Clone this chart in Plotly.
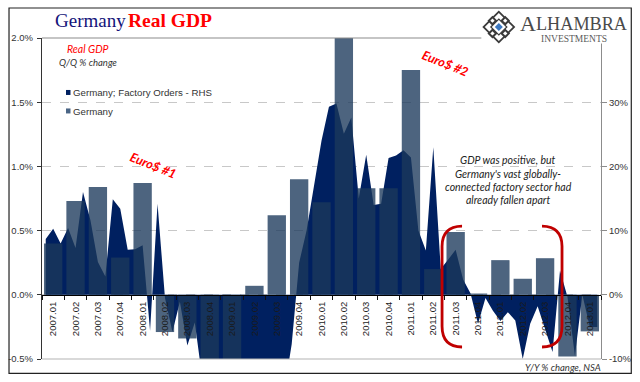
import plotly.graph_objects as go

# ---- data ----
quarters = ["2007.01","2007.02","2007.03","2007.04","2008.01","2008.02","2008.03","2008.04",
            "2009.01","2009.02","2009.03","2009.04","2010.01","2010.02","2010.03","2010.04",
            "2011.01","2011.02","2011.03","2011.04","2012.01","2012.02","2012.03","2012.04","2013.01"]
gdp_qq = [0.40,0.73,0.84,0.29,0.87,-0.29,-0.34,-1.8,-4.7,0.07,0.62,0.90,0.72,2.1,0.83,0.83,
          1.75,0.20,0.49,0.01,0.27,0.125,0.285,-0.48,-0.285]
months = [f"{y}-{m:02d}" for y in range(2007, 2013) for m in range(1, 13)] + ["2013-01", "2013-02", "2013-03"]
factory_yy = [8.7,10.3,8.0,10.4,7.3,16.0,11.6,5.1,2.85,14.9,13.4,7.0,7.1,7.7,-5.6,14.2,-0.5,-5.8,-1.1,-7.9,
              -4.3,-13,-16,-20,-22,-24,-25,-25,-26,-24,-22,-19,-15,-7.7,5,10,17,24,29.3,29.8,
              25.1,27.6,15,21.8,14,14.2,21.3,21.7,22.5,21.4,10,6.9,23,4,5.5,7,2.4,0.2,-4.5,-0.5,
              -2.5,-4.1,-2.7,-4,-10,-4.5,-1.8,-5.2,-8.9,3.8,-0.3,-9.5,0,-5,-5]
lhs_ticks = [-0.5,0,0.5,1.0,1.5,2.0]
lhs_labels = ["-0.5%","0.0%","0.5%","1.0%","1.5%","2.0%"]
rhs_ticks = [-10,0,10,20,30]
rhs_labels = ["-10%","0%","10%","20%","30%"]

W, H = 640, 382
L, R, T, B = 41.5, 600.7, 37.5, 358.7
NAVY, BAR = "#002060", "rgba(27,56,91,0.78)"
TXT = "#333333"
# paper coordinates are relative to the plot area (margins hold the rest)
def px(x): return (x - L) / (R - L)
def py(y): return (B - y) / (B - T)
def path(*segs):
    out = []
    for s in segs:
        cmd, pts = s[0], s[1:]
        out.append(cmd + " " + " ".join(f"{px(pts[i]):.5f},{py(pts[i+1]):.5f}" for i in range(0, len(pts), 2)))
    return " ".join(out)

fig = go.Figure()
fig.add_trace(go.Scatter(x=months, y=factory_yy, xaxis="x", yaxis="y", mode="lines", fill="tozeroy",
                         line=dict(width=0, color=NAVY), fillcolor=NAVY,
                         name="Germany; Factory Orders - RHS", showlegend=False))
fig.add_trace(go.Bar(x=quarters, y=gdp_qq, xaxis="x2", yaxis="y2", marker=dict(color=BAR, line=dict(width=0)),
                     width=0.82, name="Germany", showlegend=False))

shapes = []
def rect(x0, y0, x1, y1, **kw):
    shapes.append(dict(type="rect", xref="paper", yref="paper", x0=px(x0), x1=px(x1), y0=py(y0), y1=py(y1), **kw))
def line(x0, y0, x1, y1, color, width):
    shapes.append(dict(type="line", xref="paper", yref="paper", x0=px(x0), x1=px(x1), y0=py(y0), y1=py(y1),
                       line=dict(color=color, width=width)))
def poly(d, **kw):
    shapes.append(dict(type="path", xref="paper", yref="paper", path=d, **kw))

line(L, T, 481, T, "#8c8c8c", 1.2)
line(L, B, R, B, "#b4b4b4", 1.2)
# white patch for logo
rect(482, 9, 629.5, 43, fillcolor="white", line=dict(width=0))
# frame
rect(8.5, 7.5, 631, 373, line=dict(color="#222222", width=1.2), fillcolor="rgba(0,0,0,0)")
# legend swatches
rect(65.5, 89.5, 70, 94.5, fillcolor=NAVY, line=dict(width=0))
rect(65.5, 108, 70, 113, fillcolor="#4a6585", line=dict(width=0))
# brackets
red = dict(color="#c00000", width=2.8)
poly(path(("M",461.7,225.7),("Q",441.7,226,441.7,246),("L",441.7,326),("Q",441.7,346.5,461.7,346.7)), line=red)
poly(path(("M",541.7,225.7),("Q",561.7,226,561.7,246),("L",561.7,326),("Q",561.7,346.5,541.7,346.7)), line=red)
# logo
cx, cy = 498.5, 26.5
def dia(cx, cy, r): return path(("M",cx-r,cy),("L",cx,cy-r),("L",cx+r,cy),("L",cx,cy+r)) + " Z"
poly(dia(cx, cy, 16.5), fillcolor="#3a3a3a", line=dict(width=0))
poly(dia(cx, cy, 14), fillcolor="white", line=dict(width=0))
for dx, dy in [(-7.5,-7.5),(7.5,-7.5),(-7.5,7.5),(7.5,7.5)]:
    poly(dia(cx+dx*0.85, cy+dy*0.85, 5), fillcolor="#3a3a3a", line=dict(width=0))
    poly(dia(cx+dx*0.85, cy+dy*0.85, 2.2), fillcolor="white", line=dict(width=0))
poly(dia(cx, cy, 8), fillcolor="white", line=dict(color="#3a3a3a", width=1.2))
poly(dia(cx, cy, 4), fillcolor="#3c78c0", line=dict(width=0))

SANS = "Liberation Sans"
LATO = "Lato"
SERIF = "Liberation Serif"
def ann(x, y, text, size, color=TXT, family=SANS, anchor="center", angle=0, **kw):
    return dict(x=px(x), y=py(y), xref="paper", yref="paper", text=text, showarrow=False, xanchor=anchor,
                yanchor="middle", textangle=angle, font=dict(size=size, color=color, family=family),
                borderpad=0, **kw)

annotations = [
    ann(53.5, 19.5, "Germany", 19, "#14147a", SERIF, "left"),
    ann(127, 19.5, "<b>Real GDP</b>", 19.5, "#ff0000", SERIF, "left"),
    ann(88, 49, "<i>Real GDP</i>", 10.5, "#ff0000", LATO),
    ann(88, 62.5, "<i>Q/Q % change</i>", 9.5, TXT, LATO),
    ann(71.5, 92, "Germany; Factory Orders - RHS", 9.7, TXT, SANS, "left"),
    ann(71.5, 111, "Germany", 9.7, TXT, SANS, "left"),
    ann(153, 165, "<b><i>Euro$ #1</i></b>", 12.5, "#ff0000", LATO, angle=22),
    ann(445, 63, "<b><i>Euro$ #2</i></b>", 12.5, "#ff0000", LATO, angle=22),
    ann(507.7, 160, "<i>GDP was positive, but</i>", 10.5, "#222222", LATO),
    ann(507.7, 173.5, "<i>Germany's vast globally-</i>", 10.5, "#222222", LATO),
    ann(507.7, 187, "<i>connected factory sector had</i>", 10.5, "#222222", LATO),
    ann(507.7, 200, "<i>already fallen apart</i>", 10.5, "#222222", LATO),
    ann(601.7, 367.5, "<i>Y/Y % change, NSA</i>", 9.5, TXT, LATO, "right"),
    ann(519, 23, "A", 22, "#4a4a4a", SERIF, "left"),
    ann(534.5, 23.5, "LHAMBRA", 18.2, "#4a4a4a", SERIF, "left"),
    ann(574, 38.5, "INVESTMENTS", 9.5, "#5a5a5a", SERIF),
]

tickfont = dict(size=9.5, color=TXT, family=SANS)
fig.update_layout(
    width=W, height=H, autosize=False, margin=dict(l=L, r=W - R, t=T, b=H - B, pad=0, autoexpand=False),
    paper_bgcolor="white", plot_bgcolor="white", showlegend=False,
    shapes=shapes, annotations=annotations, bargap=0.18,
    xaxis=dict(domain=[0, 1], type="category", range=[-0.5, 74.5], visible=False, anchor="y"),
    yaxis=dict(domain=[0, 1], range=[-10, 40], side="right", anchor="x", tickvals=rhs_ticks, ticktext=rhs_labels,
               showgrid=False, zeroline=False, showline=True, linecolor="#8c8c8c", linewidth=1,
               ticks="outside", ticklen=5, tickcolor="#8c8c8c", tickfont=tickfont),
    xaxis2=dict(domain=[0, 1], type="category", overlaying="x", range=[-0.5, 24.5], anchor="free", position=0.2,
                categoryorder="array", categoryarray=quarters, tickmode="array", tickvals=quarters, ticktext=quarters,
                tickangle=-90, tickson="boundaries", ticks="outside", ticklen=4, tickcolor="#111111",
                ticklabelstandoff=2,
                showline=True, linecolor="#000000", linewidth=1.4, showgrid=False,
                tickfont=dict(size=9.5, color="#1a1a1a", family=SANS)),
    yaxis2=dict(domain=[0, 1], overlaying="y", range=[-0.5, 2.0], side="left", anchor="x", tickvals=lhs_ticks, ticktext=lhs_labels,
                showgrid=True, gridcolor="#c8c8c8", griddash="dash", gridwidth=1, zeroline=False,
                showline=True, linecolor="#333333", linewidth=1.2,
                ticks="outside", ticklen=4, tickcolor="#333333", tickfont=tickfont, ticklabelstandoff=2),
)
fig.write_html("out.html", post_script="document.body.style.margin='0';", config=dict(displayModeBar=False))
